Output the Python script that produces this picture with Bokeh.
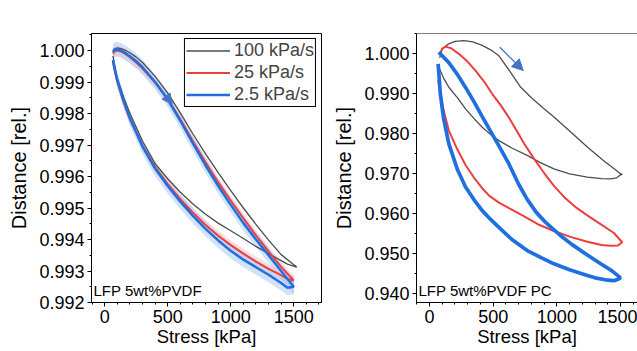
from bokeh.plotting import figure
from bokeh.layouts import row
from bokeh.models import (FixedTicker, NumeralTickFormatter, Label, Legend, LegendItem,
                          Arrow, NormalHead, Span)
from bokeh.embed import file_html
from bokeh.resources import INLINE

FONT = "Liberation Sans"
C_BLK = "#4d4d4d"
C_RED = "#ee3e3e"
C_BLU = "#1f6fe0"
C_ARR = "#4472c4"

# ---------------- data: panel (a) LFP 5wt%PVDF ----------------
a_up_x = [65, 80, 100, 130, 160, 200, 250, 300, 400, 500, 600, 700, 800, 900, 1000, 1100, 1200, 1300, 1400, 1500]
a_dn_x = [1500, 1450, 1400, 1300, 1200, 1100, 1000, 900, 800, 700, 600, 500, 400, 300, 200, 150, 100, 80, 65]
a_blue_up = [0.99995, 1.00003, 1.00004, 1.00000, 0.99993, 0.99982, 0.99966, 0.99947, 0.99900, 0.99845,
             0.99777, 0.99705, 0.99635, 0.99570, 0.99510, 0.99452, 0.99400, 0.99350, 0.99300, 0.99250]
a_blue_dn = [0.99250, 0.99247, 0.99262, 0.99288, 0.99312, 0.99336, 0.99364, 0.99397, 0.99434, 0.99475,
             0.99520, 0.99570, 0.99625, 0.99695, 0.99785, 0.99840, 0.99905, 0.99940, 0.99970]
a_red_up = [0.99990, 0.99998, 1.00000, 0.99997, 0.99990, 0.99979, 0.99962, 0.99943, 0.99898, 0.99846,
            0.99782, 0.99712, 0.99645, 0.99582, 0.99523, 0.99467, 0.99413, 0.99362, 0.99313, 0.99270]
a_red_dn = [0.99270, 0.99275, 0.99287, 0.99307, 0.99330, 0.99355, 0.99382, 0.99412, 0.99446, 0.99485,
            0.99528, 0.99576, 0.99630, 0.99698, 0.99782, 0.99836, 0.99900, 0.99935, 0.99965]
a_blk_up_x = [65, 80, 100, 130, 160, 200, 250, 300, 400, 500, 600, 700, 800, 900, 1000, 1100, 1200, 1300,
              1400, 1500, 1520]
a_blk_up = [1.00000, 1.00006, 1.00008, 1.00006, 1.00001, 0.99993, 0.99979, 0.99962, 0.99918, 0.99865,
            0.99802, 0.99735, 0.99672, 0.99612, 0.99555, 0.99500, 0.99448, 0.99398, 0.99352, 0.99320, 0.99314]
a_blk_dn_x = [1520, 1450, 1400, 1300, 1200, 1100, 1000, 900, 800, 700, 600, 500, 400, 300, 200, 150, 100, 80, 65]
a_blk_dn = [0.99312, 0.99322, 0.99333, 0.99355, 0.99378, 0.99403, 0.99428, 0.99452, 0.99480, 0.99513,
            0.99550, 0.99593, 0.99640, 0.99712, 0.99800, 0.99852, 0.99912, 0.99950, 0.99983]
a_blue_noise = 0.00024   # half-spread of the raw (unsmoothed) data
a_red_noise = 0.00016

# ---------------- data: panel (b) LFP 5wt%PVDF PC ----------------
b_blk_up_x = [80, 100, 150, 200, 270, 340, 414, 480, 545, 630, 715, 800, 890, 977, 1100, 1239, 1370, 1460, 1510]
b_blk_up = [0.9990, 1.0012, 1.0025, 1.0031, 1.0033, 1.0030, 1.0021, 1.0010, 0.9995, 0.9957, 0.9917, 0.9890,
            0.9865, 0.9842, 0.9807, 0.9767, 0.9732, 0.9710, 0.9697]
b_blk_dn_x = [1510, 1470, 1422, 1350, 1239, 1100, 977, 870, 767, 650, 545, 480, 414, 350, 283, 220, 152, 110, 68]
b_blk_dn = [0.9700, 0.9690, 0.96875, 0.9688, 0.96915, 0.9700, 0.97125, 0.9728, 0.9746, 0.9764, 0.9783,
            0.9798, 0.98165, 0.9838, 0.98625, 0.9890, 0.99165, 0.9940, 0.9970]
b_red_up_x = [80, 100, 126, 170, 230, 300, 361, 430, 492, 560, 623, 680, 740, 820, 900, 977, 1060, 1150, 1239,
              1340, 1448, 1513]
b_red_up = [1.0000, 1.0013, 1.0018, 1.0014, 1.0000, 0.9980, 0.9958, 0.9930, 0.9900, 0.9871, 0.9841, 0.9810,
            0.9777, 0.9738, 0.9702, 0.9670, 0.9641, 0.9616, 0.9596, 0.9575, 0.9552, 0.9529]
b_red_dn_x = [1513, 1480, 1422, 1350, 1239, 1100, 977, 850, 740, 650, 545, 470, 414, 350, 283, 220, 152, 110, 68]
b_red_dn = [0.9529, 0.9521, 0.9520, 0.9522, 0.9530, 0.9543, 0.9557, 0.9574, 0.9594, 0.9610, 0.9628, 0.9645,
            0.9664, 0.9690, 0.9722, 0.9760, 0.9808, 0.9860, 0.9933]
b_blue_up_x = [73, 100, 152, 220, 283, 350, 414, 480, 545, 620, 700, 767, 840, 910, 977, 1050, 1120, 1239,
               1350, 1430, 1500]
b_blue_up = [1.0004, 0.9995, 0.9978, 0.9948, 0.9916, 0.9880, 0.9843, 0.9806, 0.9770, 0.9727, 0.9674, 0.9636,
             0.9603, 0.9579, 0.9560, 0.9540, 0.9523, 0.9497, 0.9474, 0.9458, 0.9440]
b_blue_dn_x = [1500, 1470, 1448, 1400, 1300, 1239, 1100, 977, 880, 767, 650, 545, 480, 414, 350, 283, 220,
               152, 110, 85, 68]
b_blue_dn = [0.9440, 0.9435, 0.9433, 0.9434, 0.9440, 0.9446, 0.9460, 0.9475, 0.9490, 0.9508, 0.9535, 0.9566,
             0.9586, 0.9608, 0.9635, 0.9667, 0.9710, 0.9775, 0.9840, 0.9900, 0.9975]

# ---------------- ticks / labels ----------------
x_major = [0, 500, 1000, 1500]
x_minor = [-100, 100, 200, 300, 400, 600, 700, 800, 900, 1100, 1200, 1300, 1400, 1600, 1700]
a_y_major = [0.992, 0.993, 0.994, 0.995, 0.996, 0.997, 0.998, 0.999, 1.000]
a_y_minor = [0.9925, 0.9935, 0.9945, 0.9955, 0.9965, 0.9975, 0.9985, 0.9995, 1.0005]
b_y_major = [0.940, 0.950, 0.960, 0.970, 0.980, 0.990, 1.000]
b_y_minor = [0.945, 0.955, 0.965, 0.975, 0.985, 0.995, 1.005]
series_labels = ["100 kPa/s", "25 kPa/s", "2.5 kPa/s"]


def style(p, ymaj, ymin):
    p.xaxis.ticker = FixedTicker(ticks=x_major, minor_ticks=x_minor)
    p.yaxis.ticker = FixedTicker(ticks=ymaj, minor_ticks=ymin)
    p.yaxis.formatter = NumeralTickFormatter(format="0.000")
    for ax in (p.xaxis[0], p.yaxis[0]):
        ax.axis_line_color = "black"
        ax.major_tick_line_color = "black"
        ax.minor_tick_line_color = "black"
        ax.major_tick_out = 4
        ax.major_tick_in = 0
        ax.minor_tick_out = 2
        ax.minor_tick_in = 0
        ax.major_label_text_font = FONT
        ax.major_label_text_font_size = "18px"
        ax.major_label_text_color = "black"
        ax.axis_label_text_font = FONT
        ax.axis_label_text_font_style = "normal"
        ax.axis_label_text_color = "black"
    p.xaxis.axis_label_text_font_size = "18.5px"
    p.yaxis.axis_label_text_font_size = "20px"
    p.xaxis.major_label_standoff = 3
    p.xaxis.axis_label_standoff = 0
    p.yaxis.major_label_standoff = 3
    p.yaxis.axis_label_standoff = 6
    p.xaxis.axis_label = "Stress [kPa]"
    p.yaxis.axis_label = "Distance [rel.]"
    p.xgrid.visible = False
    p.ygrid.visible = False


# ---------------- panel (a) ----------------
pa = figure(width=330, height=351, x_range=(-105, 1720), y_range=(0.992, 1.00054),
            output_backend="svg", toolbar_location=None,
            min_border_left=91, min_border_right=9, min_border_top=32, min_border_bottom=49)
style(pa, a_y_major, a_y_minor)
pa.outline_line_color = "black"
pa.outline_line_alpha = 1

for xs, ys, w, col, al in [(a_up_x, a_red_up, a_red_noise, "#f5a0a0", 0.35),
                           (a_dn_x, a_red_dn, a_red_noise, "#f5a0a0", 0.35),
                           (a_up_x, a_blue_up, a_blue_noise, "#a3c6f3", 0.5),
                           (a_dn_x, a_blue_dn, a_blue_noise, "#a3c6f3", 0.5)]:
    pa.varea(x=xs, y1=[v - w for v in ys], y2=[v + w for v in ys], fill_color=col, fill_alpha=al)

ra_k = pa.line(a_blk_up_x + a_blk_dn_x, a_blk_up + a_blk_dn, line_color=C_BLK, line_width=1.3)
ra_r = pa.line(a_up_x + a_dn_x, a_red_up + a_red_dn, line_color=C_RED, line_width=2)
ra_b = pa.line(a_up_x + a_dn_x, a_blue_up + a_blue_dn, line_color=C_BLU, line_width=2.5)

pa.add_layout(Arrow(end=NormalHead(size=10, fill_color=C_ARR, line_color=C_ARR),
                    x_start=455, y_start=0.99872, x_end=535, y_end=0.99830, line_alpha=0))

leg = Legend(items=[LegendItem(label=series_labels[0], renderers=[ra_k]),
                    LegendItem(label=series_labels[1], renderers=[ra_r]),
                    LegendItem(label=series_labels[2], renderers=[ra_b])],
             location="top_right")
leg.border_line_color = "black"
leg.border_line_width = 1
leg.border_line_alpha = 1
leg.background_fill_alpha = 1
leg.label_text_font = FONT
leg.label_text_font_size = "18px"
leg.glyph_width = 44
leg.glyph_height = 21
leg.label_height = 21
leg.label_standoff = 4
leg.padding = 1
leg.spacing = 1
leg.margin = 5
pa.add_layout(leg)

pa.add_layout(Label(x=-80, y=269, x_units="screen", y_units="screen", text="(a)",
                    text_font=FONT, text_font_size="22px", text_color="black"))
pa.add_layout(Label(x=2, y=4, x_units="screen", y_units="screen", text="LFP 5wt%PVDF",
                    text_font=FONT, text_font_size="15px", text_color="black"))

# ---------------- panel (b) ----------------
b_y_end = 1.00508
pb = figure(width=307, height=351, x_range=(-102, 1633), y_range=(0.93783, b_y_end),
            output_backend="svg", toolbar_location=None,
            min_border_left=86, min_border_right=0, min_border_top=33, min_border_bottom=49)
style(pb, b_y_major, b_y_minor)
pb.outline_line_color = None
pb.add_layout(Span(location=b_y_end, dimension="width", line_color="black", line_width=1))

pb.line(b_blk_up_x + b_blk_dn_x, b_blk_up + b_blk_dn, line_color=C_BLK, line_width=1.3)
pb.line(b_red_up_x + b_red_dn_x, b_red_up + b_red_dn, line_color=C_RED, line_width=2)
pb.line(b_blue_up_x + b_blue_dn_x, b_blue_up + b_blue_dn, line_color=C_BLU, line_width=3.7)

pb.add_layout(Arrow(end=NormalHead(size=11, fill_color=C_ARR, line_color=C_ARR),
                    x_start=552, y_start=1.00165, x_end=736, y_end=0.99583,
                    line_color=C_ARR, line_width=1.2))

pb.add_layout(Label(x=-80, y=269, x_units="screen", y_units="screen", text="(b)",
                    text_font=FONT, text_font_size="22px", text_color="black"))
pb.add_layout(Label(x=2, y=4, x_units="screen", y_units="screen", text="LFP 5wt%PVDF PC",
                    text_font=FONT, text_font_size="15px", text_color="black"))

layout = row(pa, pb)
open("out.html", "w").write(file_html(layout, INLINE))
